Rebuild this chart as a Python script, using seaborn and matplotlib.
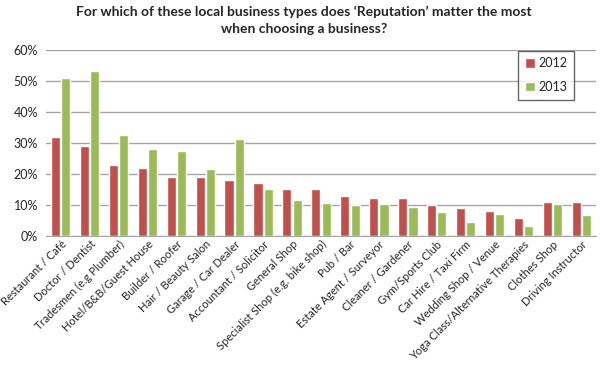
import pandas as pd
import matplotlib
matplotlib.use("Agg")
import matplotlib.pyplot as plt
import seaborn as sns
from matplotlib.ticker import PercentFormatter

# Values (percent)
business = ["Restaurant / Café", "Doctor / Dentist", "Tradesmen (e.g Plumber)",
            "Hotel/B&B/Guest House", "Builder / Roofer", "Hair / Beauty Salon",
            "Garage / Car Dealer", "Accountant / Solicitor", "General Shop",
            "Specialist Shop (e.g. bike shop)", "Pub / Bar", "Estate Agent / Surveyor",
            "Cleaner / Gardener", "Gym/Sports Club", "Car Hire / Taxi Firm",
            "Wedding Shop / Venue", "Yoga Class/Alternative Therapies",
            "Clothes Shop", "Driving Instructor"]
y2012 = [32.0, 29.0, 23.0, 22.0, 19.1, 19.1, 17.9, 17.0, 15.1, 15.1,
         13.0, 12.1, 12.1, 10.1, 8.9, 8.1, 5.9, 10.9, 10.9]
y2013 = [50.9, 53.3, 32.6, 28.1, 27.3, 21.7, 31.3, 15.1, 11.5, 10.7,
         10.0, 10.4, 9.3, 7.6, 4.5, 6.9, 3.3, 10.4, 6.7]

df = pd.DataFrame({"business": business * 2,
                   "year": ["2012"] * len(business) + ["2013"] * len(business),
                   "pct": y2012 + y2013})

sns.set_style("white")
plt.rcParams['font.family'] = ['Lato', 'DejaVu Sans']

fig = plt.figure(figsize=(6, 3.78), dpi=100)
ax = fig.add_axes([0.077, 0.376, 0.916, 0.492])

sns.barplot(data=df, x="business", y="pct", hue="year",
            palette=["#C0504D", "#9BBB59"], saturation=1, width=0.72, gap=0.12,
            ax=ax, zorder=3)

ax.set_ylim(0, 60)
ax.set_yticks(range(0, 61, 10))
ax.yaxis.set_major_formatter(PercentFormatter(decimals=0))
ax.grid(axis="y", color="#A6A6A6", linewidth=1, zorder=0)
ax.set_axisbelow(True)
ax.set_xlim(-0.5, len(business) - 0.5)
for s in ["top", "right", "left"]:
    ax.spines[s].set_visible(False)
ax.spines["bottom"].set_color("#A6A6A6")
ax.set_xlabel("")
ax.set_ylabel("")
ax.tick_params(axis="y", labelsize=9, length=0, pad=6)
ax.tick_params(axis="x", labelsize=8, length=0, pad=2)
plt.setp(ax.get_xticklabels(), rotation=45, ha="right", rotation_mode="anchor")

leg = ax.legend(loc="upper left", bbox_to_anchor=(0.847, 1.03), fontsize=9,
                frameon=True, fancybox=False, edgecolor="#404040",
                handlelength=0.8, handleheight=0.8, labelspacing=0.9,
                borderpad=0.55, handletextpad=0.3)
leg.get_frame().set_linewidth(1)

fig.suptitle("For which of these local business types does \u2018Reputation\u2019 matter the most\nwhen choosing a business?",
             x=0.507, y=0.985, fontsize=10, fontweight="bold", linespacing=1.45)

fig.savefig("out.png", dpi=100)
